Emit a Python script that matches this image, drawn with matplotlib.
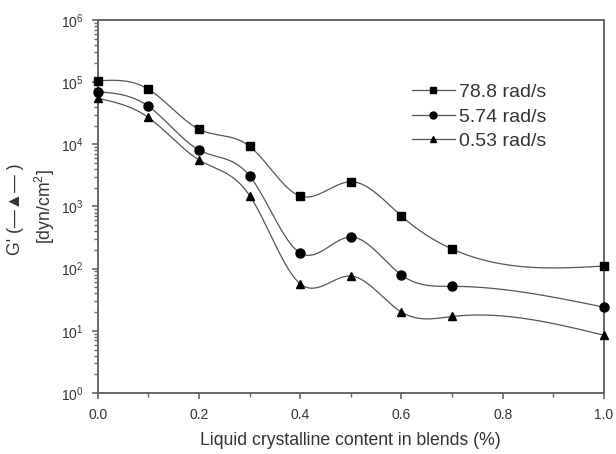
import numpy as np
import matplotlib
matplotlib.use("Agg")
import matplotlib.pyplot as plt
from matplotlib.lines import Line2D
from matplotlib.ticker import LogLocator, MultipleLocator, LogFormatterSciNotation, FormatStrFormatter

plt.rcParams['font.family'] = ['Liberation Sans', 'DejaVu Sans']
plt.rcParams['mathtext.fontset'] = 'custom'
plt.rcParams['mathtext.rm'] = 'Liberation Sans'
plt.rcParams['mathtext.it'] = 'Liberation Sans:italic'

# LC content of the blends and storage modulus G' at three frequencies
content = [0.0, 0.1, 0.2, 0.3, 0.4, 0.5, 0.6, 0.7, 1.0]
g_78_8 = [1.05e5, 7.7e4, 1.75e4, 9.3e3, 1.47e3, 2.5e3, 700, 207, 110]
g_5_74 = [7.0e4, 4.1e4, 8.1e3, 3.1e3, 178, 323, 79, 52, 24]
g_0_53 = [5.5e4, 2.7e4, 5.6e3, 1.5e3, 57, 76, 20, 17, 8.5]
labels = ["78.8 rad/s", "5.74 rad/s", "0.53 rad/s"]
markers = ["s", "o", "^"]


def natural_spline(x, y, xs):
    """Natural cubic spline through (x, y), evaluated at xs."""
    x = np.asarray(x, float)
    y = np.asarray(y, float)
    n = len(x)
    h = np.diff(x)
    A = np.zeros((n, n))
    b = np.zeros(n)
    A[0, 0] = A[-1, -1] = 1.0
    for i in range(1, n - 1):
        A[i, i - 1] = h[i - 1]
        A[i, i] = 2 * (h[i - 1] + h[i])
        A[i, i + 1] = h[i]
        b[i] = 3 * ((y[i + 1] - y[i]) / h[i] - (y[i] - y[i - 1]) / h[i - 1])
    c = np.linalg.solve(A, b)
    bb = (np.diff(y) / h) - h * (2 * c[:-1] + c[1:]) / 3
    d = np.diff(c) / (3 * h)
    idx = np.clip(np.searchsorted(x, xs) - 1, 0, n - 2)
    t = xs - x[idx]
    return y[idx] + bb[idx] * t + c[idx] * t ** 2 + d[idx] * t ** 3


fig = plt.figure(figsize=(6.16, 4.54), dpi=100)
ax = fig.add_axes([0.1586, 0.1344, 0.8219, 0.8216])

xs = np.linspace(0, 1, 400)
line_col = "#555555"
text_col = "#333333"
handles = []
for vals, mk, lab in zip([g_78_8, g_5_74, g_0_53], markers, labels):
    ys = 10 ** natural_spline(content, np.log10(vals), xs)
    ax.plot(xs, ys, color=line_col, lw=0.9, zorder=2)
    ms = 6.0 if mk != "o" else 6.5
    ax.plot(content, vals, linestyle="none", marker=mk, ms=ms,
            color="black", zorder=3, clip_on=False)
    handles.append(Line2D([], [], color=line_col, lw=0.9, marker=mk,
                          ms=5, markerfacecolor="black",
                          markeredgecolor="black", label=lab))

ax.set_yscale("log")
ax.set_ylim(1, 1e6)
ax.set_xlim(0, 1.0)
ax.xaxis.set_major_locator(MultipleLocator(0.2))
ax.xaxis.set_minor_locator(MultipleLocator(0.1))
ax.xaxis.set_major_formatter(FormatStrFormatter("%.1f"))
ax.yaxis.set_major_locator(LogLocator(base=10, numticks=10))
ax.yaxis.set_minor_locator(LogLocator(base=10, subs=np.arange(2, 10), numticks=20))
ax.yaxis.set_major_formatter(LogFormatterSciNotation())
ax.yaxis.set_minor_formatter(matplotlib.ticker.NullFormatter())

spine_col = "#666666"
for s in ax.spines.values():
    s.set_color(spine_col)
    s.set_linewidth(1.4)
ax.tick_params(which="both", direction="out", colors=spine_col,
               labelcolor=text_col, labelsize=10, top=False, right=False)
ax.tick_params(which="major", length=4, width=1.2)
ax.tick_params(axis="x", which="major", pad=7)
ax.tick_params(axis="y", which="major", pad=6)
ax.tick_params(which="minor", length=3, width=1.0)

ax.set_xlabel("Liquid crystalline content in blends (%)", fontsize=12.7,
              color=text_col, labelpad=7)

fig.text(0.025, 0.54, "G' (\u2014\u25B2\u2014 )", rotation=90, fontsize=12.7,
         color=text_col, ha="center", va="center",
         family=['Liberation Sans', 'DejaVu Sans'])
fig.text(0.073, 0.545, "[dyn/cm$^{2}$]", rotation=90, fontsize=12.7,
         color=text_col, ha="center", va="center")

ax.legend(handles=handles, loc="upper left", bbox_to_anchor=(0.621, 0.83),
          frameon=False, fontsize=14, handlelength=2.2, handletextpad=0.2,
          labelspacing=0.36, borderpad=0, borderaxespad=0,
          labelcolor=text_col)

fig.savefig("out.png", dpi=100)
